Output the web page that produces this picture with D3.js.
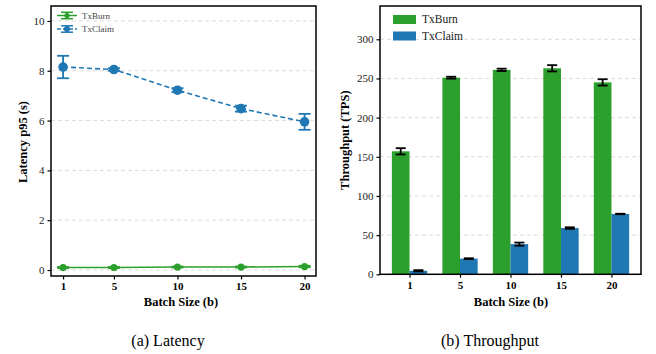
<!DOCTYPE html>
<html><head><meta charset="utf-8">
<script src="https://cdn.jsdelivr.net/npm/d3@7"></script>
<style>body{margin:0;background:#fff}svg text{font-family:"Liberation Serif",Times,"Times New Roman","Nimbus Roman","DejaVu Serif",serif !important}</style>
</head><body>
<script>
const batchSizes = [1, 5, 10, 15, 20];
const latBurn = [0.10, 0.10, 0.12, 0.12, 0.14];
const latBurnErr = [0.02, 0.02, 0.02, 0.02, 0.03];
const latClaim = [8.15, 8.05, 7.22, 6.48, 5.95];
const latClaimErr = [0.45, 0.05, 0.08, 0.12, 0.32];
const tpBurn = [157, 251, 261, 263, 245];
const tpBurnErr = [4, 1.2, 1.5, 4, 4];
const tpClaim = [4.5, 20, 38.5, 59, 77];
const tpClaimErr = [0.8, 0.5, 2, 1, 0.3];
const latTicks = [0, 2, 4, 6, 8, 10];
const tpTicks = [0, 50, 100, 150, 200, 250, 300];
const seriesNames = ["TxBurn", "TxClaim"];
const colors = {TxBurn: "#2ca02c", TxClaim: "#1f77b4"};
const captions = ["(a) Latency", "(b) Throughput"];

const svg = d3.select("body").append("svg").attr("width", 656).attr("height", 354);

// ---------- Panel A: latency ----------
{
  const L = 51, R = 316, T = 6, B = 276;
  const x = d3.scaleLinear().domain([0.05, 20.9]).range([L, R]);
  const y = d3.scaleLinear().domain([-0.24, 10.6]).range([B, T]);
  const g = svg.append("g");
  g.append("g").selectAll("line").data(latTicks).join("line")
    .attr("x1", L).attr("x2", R).attr("y1", d => y(d)).attr("y2", d => y(d))
    .attr("stroke", "#d3d3d3").attr("stroke-width", 0.8).attr("stroke-dasharray", "4,3");
  const ya = g.append("g").attr("transform", `translate(${L},0)`)
    .call(d3.axisLeft(y).tickValues(latTicks).tickSize(3.5).tickPadding(3));
  const xa = g.append("g").attr("transform", `translate(0,${B})`)
    .call(d3.axisBottom(x).tickValues(batchSizes).tickSize(3.5).tickPadding(3));
  ya.select(".domain").remove(); xa.select(".domain").remove();
  ya.selectAll("text").attr("font-size", 11).attr("fill", "#222");
  xa.selectAll("text").attr("font-size", 11).attr("font-weight", "bold");
  [ya, xa].forEach(a => a.selectAll("line").attr("stroke-width", 1.2));

  const series = [
    {name: "TxBurn", vals: latBurn, errs: latBurnErr, dash: null, r: 3.6},
    {name: "TxClaim", vals: latClaim, errs: latClaimErr, dash: "5,3", r: 4.8}
  ];
  series.forEach(s => {
    const c = colors[s.name];
    const pts = batchSizes.map((b, i) => ({x: b, v: s.vals[i], e: s.errs[i]}));
    g.append("path").datum(pts)
      .attr("d", d3.line().x(d => x(d.x)).y(d => y(d.v)))
      .attr("fill", "none").attr("stroke", c).attr("stroke-width", 1.6)
      .attr("stroke-dasharray", s.dash);
    const eg = g.append("g").attr("stroke", c).attr("stroke-width", 1.8);
    pts.forEach(d => {
      eg.append("line").attr("x1", x(d.x)).attr("x2", x(d.x)).attr("y1", y(d.v - d.e)).attr("y2", y(d.v + d.e));
      [d.v - d.e, d.v + d.e].forEach(v => eg.append("line")
        .attr("x1", x(d.x) - 6).attr("x2", x(d.x) + 6).attr("y1", y(v)).attr("y2", y(v)));
    });
    g.append("g").selectAll("circle").data(pts).join("circle")
      .attr("cx", d => x(d.x)).attr("cy", d => y(d.v)).attr("r", s.r).attr("fill", c);
  });
  g.append("rect").attr("x", L).attr("y", T).attr("width", R - L).attr("height", B - T)
    .attr("fill", "none").attr("stroke", "#000").attr("stroke-width", 1.5);
  // legend
  seriesNames.forEach((n, i) => {
    const yy = 15.5 + i * 13.5, c = colors[n];
    const lg = g.append("g");
    lg.append("line").attr("x1", 57).attr("x2", 77).attr("y1", yy).attr("y2", yy).attr("stroke", c).attr("stroke-width", 1.5)
      .attr("stroke-dasharray", n === "TxClaim" ? "4,2" : null);
    lg.append("line").attr("x1", 67).attr("x2", 67).attr("y1", yy - 3.2).attr("y2", yy + 3.2).attr("stroke", c).attr("stroke-width", 1.5);
    [yy - 3.2, yy + 3.2].forEach(v => lg.append("line").attr("x1", 61).attr("x2", 73).attr("y1", v).attr("y2", v).attr("stroke", c).attr("stroke-width", 1.5));
    lg.append("circle").attr("cx", 67).attr("cy", yy).attr("r", n === "TxClaim" ? 3 : 2.6).attr("fill", c);
    lg.append("text").attr("x", 82).attr("y", yy + 3).attr("font-size", 9).attr("fill", "#444").text(n);
  });
  g.append("text").attr("transform", `translate(27,${142}) rotate(-90)`).attr("text-anchor", "middle")
    .attr("font-size", 12.5).attr("font-weight", "bold").text("Latency p95 (s)");
  g.append("text").attr("x", 181).attr("y", 306).attr("text-anchor", "middle")
    .attr("font-size", 12.5).attr("font-weight", "bold").text("Batch Size (b)");
  g.append("text").attr("x", 168).attr("y", 346).attr("text-anchor", "middle").attr("font-size", 16).text(captions[0]);
}

// ---------- Panel B: throughput ----------
{
  const L = 380, R = 641, T = 6, B = 274.3;
  const idx = batchSizes.map((d, i) => i);
  const x = d3.scaleLinear().domain([-0.585, 4.585]).range([L, R]);
  const y = d3.scaleLinear().domain([0, 342.5]).range([B, T]);
  const w = 0.35;
  const g = svg.append("g");
  g.append("g").selectAll("line").data(tpTicks).join("line")
    .attr("x1", L).attr("x2", R).attr("y1", d => y(d)).attr("y2", d => y(d))
    .attr("stroke", "#d3d3d3").attr("stroke-width", 0.8).attr("stroke-dasharray", "4,3");
  const bars = [
    {name: "TxBurn", vals: tpBurn, errs: tpBurnErr, off: -w},
    {name: "TxClaim", vals: tpClaim, errs: tpClaimErr, off: 0}
  ];
  bars.forEach(s => {
    g.append("g").selectAll("rect").data(idx).join("rect")
      .attr("x", i => x(i + s.off)).attr("width", x(w) - x(0))
      .attr("y", i => y(s.vals[i])).attr("height", i => y(0) - y(s.vals[i]))
      .attr("fill", colors[s.name]);
  });
  bars.forEach(s => {
    const eg = g.append("g").attr("stroke", "#000").attr("stroke-width", 1.8);
    idx.forEach(i => {
      const cx = x(i + s.off + w / 2), v = s.vals[i], e = s.errs[i];
      eg.append("line").attr("x1", cx).attr("x2", cx).attr("y1", y(v - e)).attr("y2", y(v + e));
      [v - e, v + e].forEach(vv => eg.append("line").attr("x1", cx - 5).attr("x2", cx + 5).attr("y1", y(vv)).attr("y2", y(vv)));
    });
  });
  const ya = g.append("g").attr("transform", `translate(${L},0)`)
    .call(d3.axisLeft(y).tickValues(tpTicks).tickSize(3.5).tickPadding(3));
  const xa = g.append("g").attr("transform", `translate(0,${B})`)
    .call(d3.axisBottom(x).tickValues(idx).tickFormat(i => batchSizes[i]).tickSize(3.5).tickPadding(3));
  ya.select(".domain").remove(); xa.select(".domain").remove();
  ya.selectAll("text").attr("font-size", 11).attr("fill", "#222");
  xa.selectAll("text").attr("font-size", 11).attr("font-weight", "bold");
  [ya, xa].forEach(a => a.selectAll("line").attr("stroke-width", 1.2));
  g.append("rect").attr("x", L).attr("y", T).attr("width", R - L).attr("height", B - T)
    .attr("fill", "none").attr("stroke", "#000").attr("stroke-width", 1.5);
  seriesNames.forEach((n, i) => {
    const yy = 15 + i * 16.5;
    g.append("rect").attr("x", 393).attr("y", yy).attr("width", 23).attr("height", 9).attr("fill", colors[n]);
    g.append("text").attr("x", 422).attr("y", yy + 8).attr("font-size", 11.5).attr("fill", "#222").text(n);
  });
  g.append("text").attr("transform", `translate(349,${(T + B) / 2}) rotate(-90)`).attr("text-anchor", "middle")
    .attr("font-size", 12.5).attr("font-weight", "bold").text("Throughput (TPS)");
  g.append("text").attr("x", 511).attr("y", 306).attr("text-anchor", "middle")
    .attr("font-size", 12.5).attr("font-weight", "bold").text("Batch Size (b)");
  g.append("text").attr("x", 490).attr("y", 346).attr("text-anchor", "middle").attr("font-size", 16).text(captions[1]);
}
</script>
</body></html>
